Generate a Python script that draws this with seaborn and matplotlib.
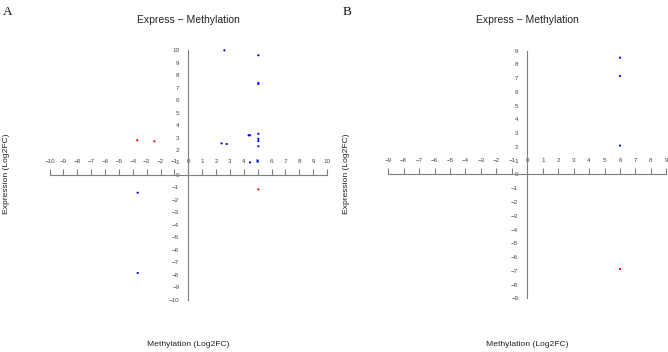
import numpy as np
import pandas as pd
import matplotlib
matplotlib.use("Agg")
import matplotlib.pyplot as plt
import seaborn as sns

# ---- data ----
a_up_meth = [2.6, 5.05, 5.05, 5.05, 4.35, 4.45, 5.05, 5.05, 5.05, 5.05, 2.4, 2.77, 4.45, 5.0, -3.65, -3.65]
a_up_expr = [10.0, 9.6, 7.38, 7.3, 3.18, 3.18, 3.3, 2.9, 2.72, 2.3, 2.53, 2.48, 1.0, 1.1, -1.43, -7.87]
a_down_meth = [-3.68, -2.45, 5.05]
a_down_expr = [2.78, 2.7, -1.16]
b_up_meth = [6.0, 6.0, 6.0]
b_up_expr = [8.49, 7.16, 2.1]
b_down_meth = [6.0]
b_down_expr = [-6.87]
a_ticks = list(range(-10, 11))
b_ticks = list(range(-9, 10))

def frame(mx, my, grp):
    return pd.DataFrame({"meth": mx, "expr": my, "grp": [grp] * len(mx)})

df_a = pd.concat([frame(a_up_meth, a_up_expr, "blue"), frame(a_down_meth, a_down_expr, "red")])
df_b = pd.concat([frame(b_up_meth, b_up_expr, "blue"), frame(b_down_meth, b_down_expr, "red")])

sns.set_style("white")
plt.rcParams["font.family"] = ["Liberation Sans", "DejaVu Sans"]

W, H = 668, 352
fig = plt.figure(figsize=(W / 100, H / 100), dpi=100)

def px_axes(x0, x1, ytop, ybot):
    return fig.add_axes([x0 / W, (H - ybot) / H, (x1 - x0) / W, (ybot - ytop) / H])

axA = px_axes(49.6, 327.0, 50.3, 299.5)
axB = px_axes(388.25, 666.35, 50.66, 298.3)

axis_col = "#7f7f7f"
text_col = "#444444"

def fmt(t):
    return str(t) if t >= 0 else "\u2212" + str(-t)

for ax, df, ticks, lim in [(axA, df_a, a_ticks, 10), (axB, df_b, b_ticks, 9)]:
    sns.scatterplot(data=df, x="meth", y="expr", hue="grp",
                    palette={"blue": "#0000ff", "red": "#ff0000"},
                    marker="o", s=2.5, linewidth=0, legend=False, ax=ax, clip_on=False)
    ax.set_xlim(-lim, lim)
    ax.set_ylim(-lim, lim)
    ax.set_facecolor("none")
    ax.spines["bottom"].set_visible(False)
    ax.spines["right"].set_visible(False)
    ax.spines["top"].set_position(("data", 0))
    ax.spines["left"].set_position(("data", 0))
    for s in ("top", "left"):
        ax.spines[s].set_color(axis_col)
        ax.spines[s].set_linewidth(0.8)
        ax.spines[s].set_bounds(-lim, lim)
    ax.xaxis.tick_top()
    ax.set_xticks(ticks)
    ax.set_yticks(ticks)
    ax.set_xticklabels([fmt(t) for t in ticks])
    ax.set_yticklabels([fmt(t) for t in ticks])
    ax.tick_params(axis="x", direction="out", length=4, width=0.8, color=axis_col,
                   labelsize=4.5, labelcolor=text_col, pad=4, top=True, bottom=False)
    ax.tick_params(axis="y", direction="out", length=3.5, width=0.8, color=axis_col,
                   labelsize=4.5, labelcolor=text_col, pad=3)
    ax.set_xlabel("")
    ax.set_ylabel("")

# titles and axis labels positioned in pixels
for cx, yl_x in [(188.3, 7), (527.3, 346)]:
    fig.text(cx / W, 1 - 20 / H, "Express \u2212 Methylation", ha="center", va="center",
             fontsize=7.5, color="#222222")
    fig.text(cx / W, 1 - 345 / H, "Methylation (Log2FC)", ha="center", va="center",
             fontsize=6.1, color="#222222")
    fig.text(yl_x / W, 1 - 174 / H, "Expression (Log2FC)", ha="center", va="center",
             rotation=90, fontsize=6.1, color="#222222")

fig.text(8 / W, 1 - 12 / H, "A", ha="center", va="center", fontsize=9.5,
         family=["Liberation Serif", "DejaVu Serif"], color="#111111")
fig.text(347 / W, 1 - 12 / H, "B", ha="center", va="center", fontsize=9.5,
         family=["Liberation Serif", "DejaVu Serif"], color="#111111")

fig.savefig("out.png", dpi=100)
